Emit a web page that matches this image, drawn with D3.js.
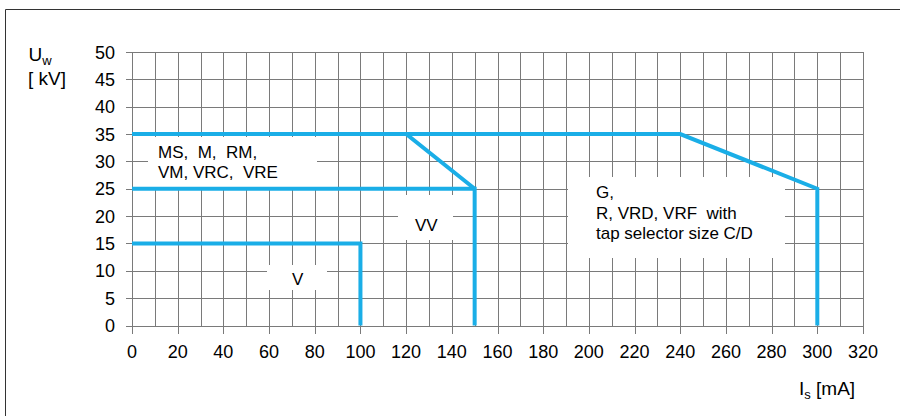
<!DOCTYPE html>
<html><head><meta charset="utf-8">
<script src="https://cdn.jsdelivr.net/npm/d3@7"></script>
<style>
html,body{margin:0;padding:0;background:#fff;}
svg{display:block;font-family:"Liberation Sans",Arial,sans-serif;}
</style></head>
<body><svg id="c" width="900" height="416"></svg>
<script>
// ---- data ----
const xTicks = [0,20,40,60,80,100,120,140,160,180,200,220,240,260,280,300,320];
const yTicks = [0,5,10,15,20,25,30,35,40,45,50];
const xGrid = d3.range(0, 321, 10);
const seriesV  = [[0,15],[100,15],[100,0]];
const seriesVV = [[0,25],[150,25],[150,0]];
const seriesMS = [[0,35],[120,35],[150,25]];
const seriesG  = [[0,35],[240,35],[300,25],[300,0]];
const labelMS = ["MS,  M,  RM,", "VM, VRC,  VRE"];
const labelVV = ["VV"];
const labelV  = ["V"];
const labelG  = ["G,", "R, VRD, VRF  with", "tap selector size C/D"];

// ---- drawing ----
const svg = d3.select("#c");
const x = d3.scaleLinear().domain([0,320]).range([132,863]);
const y = d3.scaleLinear().domain([0,50]).range([325.5,52]);
const gridColor = "#7a7a7a";
const blue = "#1aaee7";

// frame
svg.append("path").attr("d","M5.5,416V9.5H900").attr("fill","none").attr("stroke","#333").attr("stroke-width",1);

// grid
const g = svg.append("g").attr("shape-rendering","crispEdges");
g.selectAll(".vx").data(xGrid).join("line")
  .attr("x1",d=>Math.round(x(d))+0.5).attr("x2",d=>Math.round(x(d))+0.5)
  .attr("y1",y(50)).attr("y2",d=> d%20===0 ? y(0)+8 : y(0))
  .attr("stroke",gridColor);
g.selectAll(".hy").data(yTicks).join("line")
  .attr("y1",d=>Math.round(y(d))+0.5).attr("y2",d=>Math.round(y(d))+0.5)
  .attr("x1",x(0)-6).attr("x2",x(320))
  .attr("stroke",gridColor);

// tick labels
svg.append("g").selectAll("text").data(xTicks).join("text")
  .attr("x",d=>x(d)).attr("y",y(0)+32).attr("text-anchor","middle")
  .attr("font-size",18).attr("fill","#000").text(d=>d);
svg.append("g").selectAll("text").data(yTicks).join("text")
  .attr("x",x(0)-17).attr("y",d=>y(d)+6.5).attr("text-anchor","end")
  .attr("font-size",18).attr("fill","#000").text(d=>d);

// axis titles
const ut = svg.append("text").attr("x",40).attr("y",61).attr("font-size",19).attr("text-anchor","middle");
ut.append("tspan").text("U");
ut.append("tspan").attr("font-size",13).attr("dy",4).text("w");
svg.append("text").attr("x",47).attr("y",85).attr("font-size",19).attr("text-anchor","middle").text("[ kV]");
const it = svg.append("text").attr("x",799).attr("y",395).attr("font-size",19);
it.append("tspan").text("I");
it.append("tspan").attr("font-size",13).attr("dy",4).text("s");
it.append("tspan").attr("dy",-4).text(" [mA]");

// label boxes (white, hiding grid)
function box(x0,y0,x1,y1){
  svg.append("rect").attr("x",x0).attr("y",y0).attr("width",x1-x0).attr("height",y1-y0).attr("fill","#fff");
}
box(148,137,317,187);
box(568,177,785,258);
box(398,195,453,240);
box(267,265,327,290);

// series lines
const line = d3.line().x(d=>x(d[0])).y(d=>y(d[1]));
[seriesG, seriesMS, seriesVV, seriesV].forEach(s=>{
  svg.append("path").datum(s).attr("d",line).attr("fill","none")
    .attr("stroke",blue).attr("stroke-width",4).attr("stroke-linejoin","miter");
});

// labels
function lab(lines,x0,y0,dy){
  const t = svg.append("text").attr("font-size",17).attr("fill","#000");
  lines.forEach((s,i)=>t.append("tspan").attr("x",x0).attr("y",y0+i*dy).attr("xml:space","preserve").style("white-space","pre").text(s));
}
lab(labelMS,158,158,20);
lab(labelG,596,198,20.5);
lab(labelVV,415,231,20);
lab(labelV,292,285,20);
</script></body></html>
